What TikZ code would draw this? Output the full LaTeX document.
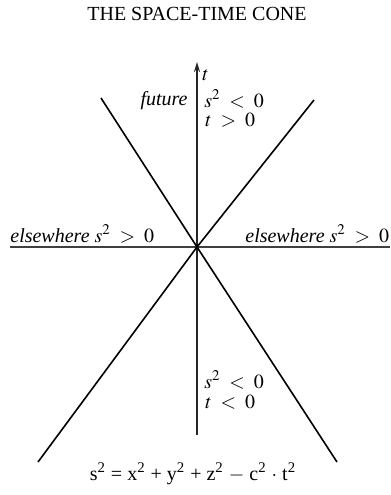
\documentclass[tikz,border=0pt]{standalone}
\usepackage{mathptmx}
\usepackage{fontspec}
\setmainfont{Liberation Serif}
\usepackage{tikz}
\usetikzlibrary{arrows.meta}

\begin{document}
\begin{tikzpicture}[x=0.5pt, y=-0.5pt,
          axis/.style={line width=1pt, black!85},
          cone/.style={line width=0.8pt, black},
          lbl/.style={inner sep=0pt, font=\normalsize},
          arr/.style={-{Stealth[length=5pt, width=3pt]}}
        ]
        \useasboundingbox (0,0) rectangle (391,495);

        % Title
        \node[lbl, anchor=base] (title) at (197,20) {THE SPACE-TIME CONE};

        % Axes
        \coordinate (O)  at (197,247);
        \coordinate (tb) at (197,435);
        \coordinate (tt) at (197,62);
        \coordinate (xl) at (10,247);
        \coordinate (xr) at (390,247);
        \draw[axis, arr] (tb) -- (tt);
        \draw[axis, line width=1.2pt, black!75] (xl) -- (xr);

        % Light cone
        \coordinate (ul) at (101,98);
        \coordinate (lr) at (337,462);
        \coordinate (ur) at (314,100);
        \coordinate (ll) at (38,462);
        \draw[cone] (ul) -- (O) -- (lr);
        \draw[cone] (ur) -- (O) -- (ll);

        % Region labels
        \node[lbl, anchor=west] (tlab) at (202,75) {$t$};
        \node[lbl, anchor=east] (fut) at (188,101) {\itshape future};
        \node[lbl, anchor=west] (fs) at (204,99) {$s^2 \;<\; 0$};
        \node[lbl, anchor=west] (ft) at (205,120) {$t \;>\; 0$};
        \node[lbl, anchor=west] (ps) at (204,380) {$s^2 \;<\; 0$};
        \node[lbl, anchor=west] (pt) at (205,402) {$t \;<\; 0$};
        \node[lbl, anchor=base west] (elsl) at (10,242)
              {\itshape elsewhere \upshape$s^2 \;>\; 0$};
        \node[lbl, anchor=base west] (elsr) at (245,242)
              {\itshape elsewhere \upshape$s^2 \;>\; 0$};

        % Interval
        \node[lbl, anchor=base] (eq) at (193,480)
              {s\textsuperscript{2} = x\textsuperscript{2} + y\textsuperscript{2}
               + z\textsuperscript{2} $-$ c\textsuperscript{2} $\cdot$ t\textsuperscript{2}};
      \end{tikzpicture}
\end{document}
